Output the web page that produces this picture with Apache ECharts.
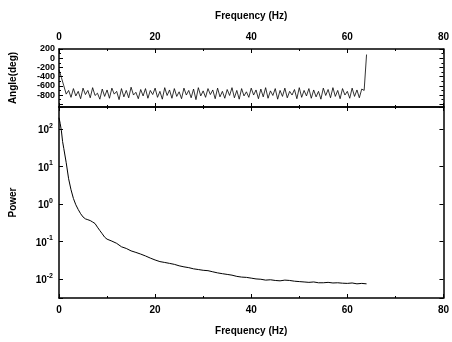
<!DOCTYPE html>
<html><head><meta charset="utf-8">
<script src="https://cdn.jsdelivr.net/npm/echarts@6/dist/echarts.min.js"></script>
<style>html,body{margin:0;padding:0;background:#fff}#c{width:452px;height:342px}</style>
</head><body><div id="c"></div>
<script>
// ---- data ----
const xTicks = [0, 20, 40, 60, 80];
const angleTicks = [200, 0, -200, -400, -600, -800];
const angleStep = 0.5; // Hz between phase samples
const angleDeg = [
  -250, -420, -600, -780,
  -700, -850, -660, -820, -720, -880, -650, -790, -700, -860, -640, -810,
  -760, -890, -670, -830, -690, -870, -650, -780, -720, -900, -660, -840,
  -700, -860, -630, -800, -740, -880, -680, -820, -660, -870, -700, -790,
  -650, -850, -720, -890, -640, -810, -690, -870, -660, -830, -730, -880,
  -650, -800, -700, -860, -670, -900, -640, -820, -710, -850, -660, -790,
  -690, -880, -650, -840, -720, -870, -680, -810, -640, -860, -700, -890,
  -660, -820, -730, -850, -650, -800, -690, -880, -670, -840, -640, -870,
  -710, -810, -660, -890, -700, -830, -650, -860, -720, -800, -680, -880,
  -640, -850, -700, -820, -660, -870, -690, -840, -720, -890, -650, -810,
  -680, -860, -640, -830, -700, -880, -660, -800, -720, -870, -650, -830,
  -690, -860, -670, -700, 80
];
const powerFreq = [0, 0.25, 0.5, 0.75, 1, 1.5, 2, 2.5, 3, 3.5, 4, 4.5, 5, 5.5, 6, 6.5, 7, 7.5, 8, 8.5, 9, 9.5,
  10, 11, 12, 13, 14, 15, 16, 17, 18, 19, 20, 21, 22, 23, 24, 25, 26, 27, 28, 29, 30, 31, 32, 33, 34, 35, 36, 37,
  38, 39, 40, 41, 42, 43, 44, 45, 46, 47, 48, 49, 50, 51, 52, 53, 54, 55, 56, 57, 58, 59, 60, 61, 62, 63, 64];
const powerVal = [200, 140, 89, 46, 30, 12.6, 4.7, 2.4, 1.4, 0.95, 0.71, 0.55, 0.45, 0.40, 0.38, 0.36, 0.33, 0.30, 0.24, 0.195, 0.16, 0.13,
  0.115, 0.102, 0.089, 0.072, 0.065, 0.056, 0.051, 0.046, 0.041, 0.036, 0.032, 0.029, 0.0275, 0.026, 0.0245, 0.0224, 0.021, 0.020, 0.0186, 0.0178,
  0.017, 0.0166, 0.0155, 0.0145, 0.0138, 0.0132, 0.0126, 0.0117, 0.0112, 0.011, 0.0105, 0.0100, 0.0098, 0.0093, 0.0095, 0.0091, 0.0089, 0.0093,
  0.0091, 0.0087, 0.0085, 0.0083, 0.0081, 0.0083, 0.0079, 0.0079, 0.0081, 0.0078, 0.0079, 0.0077, 0.0076, 0.0078, 0.0074, 0.0076, 0.0074];

// ---- chart ----
const FONT = 'Liberation Sans';
const axisLine = {show: true, onZero: false, lineStyle: {color: '#000', width: 1.5}};
const tick = {show: true, inside: true, length: 4, lineStyle: {color: '#000', width: 1}};
const minor = {show: true, splitNumber: 2, length: 2, lineStyle: {color: '#000', width: 1}};
const lbl = {color: '#000', fontFamily: FONT, fontWeight: 'bold', fontSize: 10};
const nameStyle = {color: '#000', fontFamily: FONT, fontWeight: 'bold', fontSize: 10};

function xAx(gi, pos, showLabel, name, gap) {
  return {
    type: 'value', gridIndex: gi, position: pos, min: 0, max: 80, interval: 20,
    axisLine, axisTick: tick, minorTick: minor, splitLine: {show: false},
    axisLabel: Object.assign({show: showLabel, margin: 7,
      formatter: v => xTicks.indexOf(v) >= 0 ? String(v) : ''}, lbl),
    name: name || '', nameLocation: 'middle', nameGap: gap || 0, nameTextStyle: nameStyle
  };
}
function isDecade(v) { const l = Math.log10(v); return Math.abs(l - Math.round(l)) < 1e-6; }

const option = {
  animation: false,
  backgroundColor: '#fff',
  grid: [
    {left: 58, right: 5, top: 49, height: 58},
    {left: 58, right: 5, top: 107, bottom: 44}
  ],
  xAxis: [
    xAx(0, 'top', true, 'Frequency (Hz)', 28),
    xAx(0, 'bottom', false),
    xAx(1, 'bottom', true, 'Frequency (Hz)', 28),
    xAx(1, 'top', false)
  ],
  yAxis: [
    {type: 'value', gridIndex: 0, position: 'left', min: -1060, max: 200, splitNumber: 6,
     axisLine, axisTick: tick, minorTick: minor, splitLine: {show: false},
     axisLabel: Object.assign({margin: 4, formatter: v => angleTicks.indexOf(v) >= 0 ? String(v) : ''}, lbl, {fontSize: 9}),
     name: 'Angle(deg)', nameLocation: 'middle', nameGap: 41, nameTextStyle: nameStyle},
    {type: 'value', gridIndex: 0, position: 'right', min: -1060, max: 200, splitNumber: 6,
     axisLine, axisTick: tick, minorTick: minor, splitLine: {show: false}, axisLabel: {show: false}},
    {type: 'log', gridIndex: 1, position: 'left', logBase: 10, min: 0.0031, max: 386,
     axisLine, axisTick: tick, splitLine: {show: false},
     axisLabel: Object.assign({margin: 6,
       formatter: v => { if (!isDecade(v)) return ''; const e = Math.round(Math.log10(v)); return '{b|10}{s|' + e + '}'; },
       rich: {b: {fontFamily: FONT, fontSize: 10, color: '#000', verticalAlign: 'bottom'},
              s: {fontFamily: FONT, fontSize: 7, color: '#000', verticalAlign: 'top', padding: [0, 0, 6, 0]}}}, lbl),
     name: 'Power', nameLocation: 'middle', nameGap: 41, nameTextStyle: nameStyle},
    {type: 'log', gridIndex: 1, position: 'right', logBase: 10, min: 0.0031, max: 386,
     axisLine, axisTick: tick, splitLine: {show: false}, axisLabel: {show: false}}
  ],
  series: [
    {type: 'line', xAxisIndex: 0, yAxisIndex: 0, showSymbol: false, symbol: 'none',
     lineStyle: {color: '#000', width: 0.8},
     data: angleDeg.map((v, i) => [i * angleStep, v])},
    {type: 'line', xAxisIndex: 2, yAxisIndex: 2, showSymbol: false, symbol: 'none',
     lineStyle: {color: '#000', width: 1},
     data: powerVal.map((v, i) => [powerFreq[i], v])}
  ]
};
const chart = echarts.init(document.getElementById('c'), null, {renderer: 'canvas'});
chart.setOption(option);
</script>
</body></html>
